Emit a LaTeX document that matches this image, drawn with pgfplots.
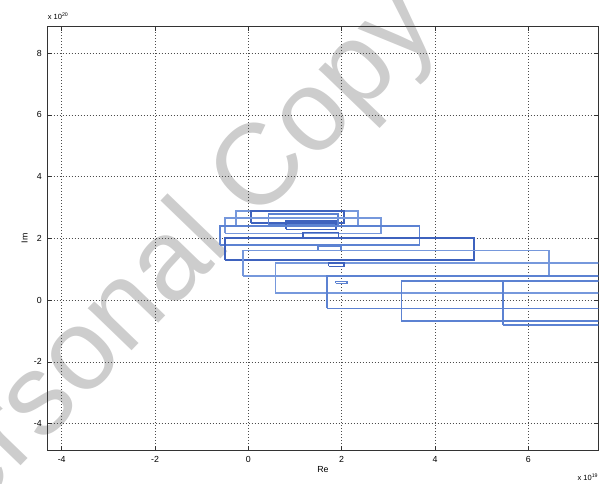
\documentclass[border=0pt]{standalone}
\usepackage{pgfplots}
\pgfplotsset{compat=1.18}
\usepackage{fontspec}
\setmainfont{Liberation Sans}
\definecolor{rdark}{RGB}{62,98,190}
\definecolor{rmed}{RGB}{92,130,210}
\definecolor{rlight}{RGB}{118,152,220}
\definecolor{wm}{RGB}{205,205,205}
\begin{document}
\begin{tikzpicture}
\useasboundingbox (-47.7pt,-34pt) rectangle (557.3pt,450pt);
\node[rotate=46, text=wm, inner sep=0pt, font=\fontsize{115}{115}\selectfont] at (111pt,169pt) {Personal Copy};
\begin{axis}[at={(0,0)}, anchor=south west, scale only axis,
  width=550.6pt, height=423.3pt,
  xmin=-4.3, xmax=7.5, ymin=-4.86, ymax=8.86,
  xtick={-4,-2,...,6}, ytick={-4,-2,...,8},
  grid=major, grid style={black!70, line width=0.45pt, dash pattern=on 1pt off 2pt},
  axis line style={black!80, line width=0.8pt},
  tick style={black!80, line width=0.5pt}, tick align=inside, major tick length=4pt,
  ticklabel style={font=\fontsize{8.8}{10}\selectfont},
  xticklabel style={yshift=-2.5pt}, yticklabel style={xshift=-2.5pt},
  /pgf/number format/assume math mode=true,
  scaled ticks=false, no markers,
  every axis plot/.append style={line width=1.7pt},
]
\addplot[color=rlight] coordinates {(-0.26,2.40) (2.35,2.40) (2.35,2.89) (-0.26,2.89) (-0.26,2.40)};
\addplot[color=rdark] coordinates {(0.06,2.49) (2.05,2.49) (2.05,2.89) (0.06,2.89) (0.06,2.49)};
\addplot[color=rmed] coordinates {(0.43,2.45) (1.92,2.45) (1.92,2.78) (0.43,2.78) (0.43,2.45)};
\addplot[color=rlight] coordinates {(-0.50,2.16) (2.85,2.16) (2.85,2.67) (-0.50,2.67) (-0.50,2.16)};
\addplot[color=rdark] coordinates {(0.81,2.29) (1.88,2.29) (1.88,2.56) (0.81,2.56) (0.81,2.29)};
\addplot[color=rmed] coordinates {(-0.60,1.78) (3.67,1.78) (3.67,2.41) (-0.60,2.41) (-0.60,1.78)};
\addplot[color=rdark] coordinates {(1.17,2.00) (1.93,2.00) (1.93,2.19) (1.17,2.19) (1.17,2.00)};
\addplot[color=rdark] coordinates {(-0.50,1.30) (4.83,1.30) (4.83,2.00) (-0.50,2.00) (-0.50,1.30)};
\addplot[color=rmed] coordinates {(1.49,1.61) (1.99,1.61) (1.99,1.75) (1.49,1.75) (1.49,1.61)};
\addplot[color=rlight] coordinates {(-0.12,0.79) (6.44,0.79) (6.44,1.61) (-0.12,1.61) (-0.12,0.79)};
\addplot[color=rlight] coordinates {(0.58,0.22) (8,0.22) (8,1.19) (0.58,1.19) (0.58,0.22)};
\addplot[color=rdark] coordinates {(1.72,1.09) (2.05,1.09) (2.05,1.19) (1.72,1.19) (1.72,1.09)};
\addplot[color=rmed] coordinates {(1.69,-0.27) (8,-0.27) (8,0.79) (1.69,0.79) (1.69,-0.27)};
\addplot[color=rmed] coordinates {(1.87,0.54) (2.12,0.54) (2.12,0.60) (1.87,0.60) (1.87,0.54)};
\addplot[color=rmed] coordinates {(3.28,-0.68) (8,-0.68) (8,0.62) (3.28,0.62) (3.28,-0.68)};
\addplot[color=rmed] coordinates {(5.45,-0.81) (8,-0.81) (8,0.62) (5.45,0.62) (5.45,-0.81)};
\end{axis}
\node[font=\fontsize{8.8}{10}\selectfont] at (275.3pt,-20pt) {Re};
\node[rotate=90, font=\fontsize{8.8}{10}\selectfont] at (-23pt,211.65pt) {Im};
\node[anchor=base west, inner sep=0pt, font=\fontsize{7.5}{8}\selectfont] at (0pt,430pt) {x 10\textsuperscript{20}};
\node[anchor=base east, inner sep=0pt, font=\fontsize{7.5}{8}\selectfont] at (550.6pt,-31pt) {x 10\textsuperscript{19}};
\end{tikzpicture}
\end{document}
